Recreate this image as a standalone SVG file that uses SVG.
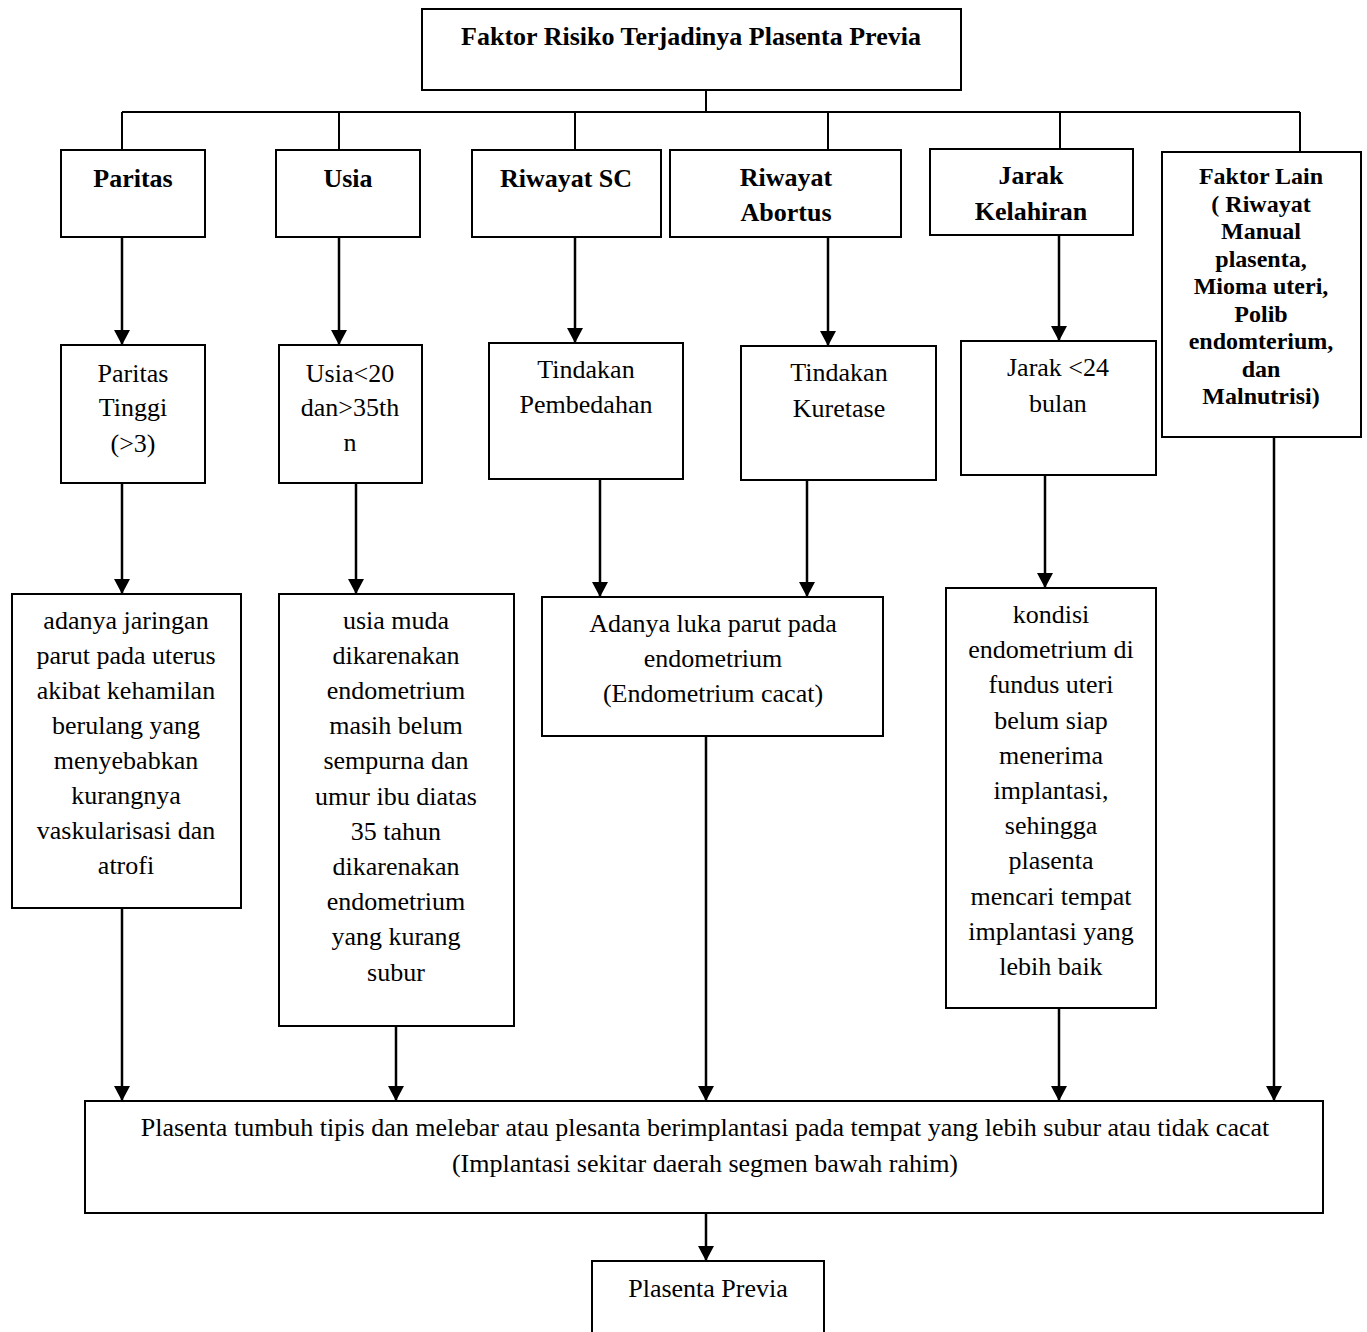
<svg xmlns="http://www.w3.org/2000/svg" width="1367" height="1332" viewBox="0 0 1367 1332">
  <style>
    .box { fill: #fff; stroke: #000; stroke-width: 2; }
    .wire { fill: none; stroke: #000; stroke-width: 2; }
    .arrow { fill: none; stroke: #000; stroke-width: 2.5; marker-end: url(#head); }
    text { font-family: "Liberation Serif", "Times New Roman", serif; fill: #000; text-anchor: middle; }
    .t { font-size: 26px; }
    .b { font-size: 26px; font-weight: bold; }
    .bs { font-size: 24px; font-weight: bold; }
  </style>
  <defs>
    <marker id="head" viewBox="0 0 15 16" refX="15" refY="8" markerWidth="15" markerHeight="16" markerUnits="userSpaceOnUse" orient="auto">
      <path d="M0,0 L15,8 L0,16 z" fill="#000"/>
    </marker>
  </defs>
  <rect width="1367" height="1332" fill="#fff"/>

  <!-- connectors -->
  <g id="connectors">
    <path class="wire" d="M706,90 V112 M122,112 H1300 M122,112 V150 M339,112 V150 M575,112 V150 M828,112 V150 M1060,112 V149 M1300,112 V152"/>
    <line class="arrow" x1="122" y1="237" x2="122" y2="345"/>
    <line class="arrow" x1="339" y1="237" x2="339" y2="345"/>
    <line class="arrow" x1="575" y1="237" x2="575" y2="343"/>
    <line class="arrow" x1="828" y1="237" x2="828" y2="346"/>
    <line class="arrow" x1="1059" y1="235" x2="1059" y2="341"/>
    <line class="arrow" x1="122" y1="483" x2="122" y2="594"/>
    <line class="arrow" x1="356" y1="483" x2="356" y2="594"/>
    <line class="arrow" x1="600" y1="479" x2="600" y2="597"/>
    <line class="arrow" x1="807" y1="480" x2="807" y2="597"/>
    <line class="arrow" x1="1045" y1="475" x2="1045" y2="588"/>
    <line class="arrow" x1="122" y1="908" x2="122" y2="1101"/>
    <line class="arrow" x1="396" y1="1026" x2="396" y2="1101"/>
    <line class="arrow" x1="706" y1="736" x2="706" y2="1101"/>
    <line class="arrow" x1="1059" y1="1008" x2="1059" y2="1101"/>
    <line class="arrow" x1="1274" y1="437" x2="1274" y2="1101"/>
    <line class="arrow" x1="706" y1="1213" x2="706" y2="1261"/>
  </g>

  <!-- root -->
  <g id="root">
    <rect class="box" x="422" y="9" width="539" height="81"/>
    <text class="b" x="691" y="45">Faktor Risiko Terjadinya Plasenta Previa</text>
  </g>

  <!-- risk factors -->
  <g id="paritas">
    <rect class="box" x="61" y="150" width="144" height="87"/>
    <text class="b" x="133" y="187">Paritas</text>
  </g>
  <g id="usia">
    <rect class="box" x="276" y="150" width="144" height="87"/>
    <text class="b" x="348" y="187">Usia</text>
  </g>
  <g id="riwayat-sc">
    <rect class="box" x="472" y="150" width="189" height="87"/>
    <text class="b" x="566" y="187">Riwayat SC</text>
  </g>
  <g id="riwayat-abortus">
    <rect class="box" x="670" y="150" width="231" height="87"/>
    <text class="b" x="786" y="186">Riwayat</text>
    <text class="b" x="786" y="221">Abortus</text>
  </g>
  <g id="jarak-kelahiran">
    <rect class="box" x="930" y="149" width="203" height="86"/>
    <text class="b" x="1031" y="184">Jarak</text>
    <text class="b" x="1031" y="220">Kelahiran</text>
  </g>
  <g id="faktor-lain">
    <rect class="box" x="1162" y="152" width="199" height="285"/>
    <text class="bs" x="1261" y="184">Faktor Lain</text>
    <text class="bs" x="1261" y="211.5">( Riwayat</text>
    <text class="bs" x="1261" y="239">Manual</text>
    <text class="bs" x="1261" y="266.5">plasenta,</text>
    <text class="bs" x="1261" y="294">Mioma uteri,</text>
    <text class="bs" x="1261" y="321.5">Polib</text>
    <text class="bs" x="1261" y="349">endomterium,</text>
    <text class="bs" x="1261" y="376.5">dan</text>
    <text class="bs" x="1261" y="404">Malnutrisi)</text>
  </g>

  <!-- conditions -->
  <g id="paritas-tinggi">
    <rect class="box" x="61" y="345" width="144" height="138"/>
    <text class="t" x="133" y="382">Paritas</text>
    <text class="t" x="133" y="416">Tinggi</text>
    <text class="t" x="133" y="452">(&gt;3)</text>
  </g>
  <g id="usia-batas">
    <rect class="box" x="279" y="345" width="143" height="138"/>
    <text class="t" x="350" y="382">Usia&lt;20</text>
    <text class="t" x="350" y="416">dan&gt;35th</text>
    <text class="t" x="350" y="451">n</text>
  </g>
  <g id="tindakan-pembedahan">
    <rect class="box" x="489" y="343" width="194" height="136"/>
    <text class="t" x="586" y="378">Tindakan</text>
    <text class="t" x="586" y="413">Pembedahan</text>
  </g>
  <g id="tindakan-kuretase">
    <rect class="box" x="741" y="346" width="195" height="134"/>
    <text class="t" x="839" y="381">Tindakan</text>
    <text class="t" x="839" y="417">Kuretase</text>
  </g>
  <g id="jarak-24">
    <rect class="box" x="961" y="341" width="195" height="134"/>
    <text class="t" x="1058" y="376">Jarak &lt;24</text>
    <text class="t" x="1058" y="412">bulan</text>
  </g>

  <!-- mechanisms -->
  <g id="jaringan-parut">
    <rect class="box" x="12" y="594" width="229" height="314"/>
    <text class="t" x="126" y="629">adanya jaringan</text>
    <text class="t" x="126" y="664">parut pada uterus</text>
    <text class="t" x="126" y="699">akibat kehamilan</text>
    <text class="t" x="126" y="734">berulang yang</text>
    <text class="t" x="126" y="769">menyebabkan</text>
    <text class="t" x="126" y="804">kurangnya</text>
    <text class="t" x="126" y="839">vaskularisasi dan</text>
    <text class="t" x="126" y="874">atrofi</text>
  </g>
  <g id="usia-muda">
    <rect class="box" x="279" y="594" width="235" height="432"/>
    <text class="t" x="396" y="629">usia muda</text>
    <text class="t" x="396" y="664">dikarenakan</text>
    <text class="t" x="396" y="699">endometrium</text>
    <text class="t" x="396" y="734">masih belum</text>
    <text class="t" x="396" y="769">sempurna dan</text>
    <text class="t" x="396" y="805">umur ibu diatas</text>
    <text class="t" x="396" y="840">35 tahun</text>
    <text class="t" x="396" y="875">dikarenakan</text>
    <text class="t" x="396" y="910">endometrium</text>
    <text class="t" x="396" y="945">yang kurang</text>
    <text class="t" x="396" y="981">subur</text>
  </g>
  <g id="luka-parut">
    <rect class="box" x="542" y="597" width="341" height="139"/>
    <text class="t" x="713" y="632">Adanya luka parut pada</text>
    <text class="t" x="713" y="667">endometrium</text>
    <text class="t" x="713" y="702">(Endometrium cacat)</text>
  </g>
  <g id="kondisi-endometrium">
    <rect class="box" x="946" y="588" width="210" height="420"/>
    <text class="t" x="1051" y="623">kondisi</text>
    <text class="t" x="1051" y="658">endometrium di</text>
    <text class="t" x="1051" y="693">fundus uteri</text>
    <text class="t" x="1051" y="729">belum siap</text>
    <text class="t" x="1051" y="764">menerima</text>
    <text class="t" x="1051" y="799">implantasi,</text>
    <text class="t" x="1051" y="834">sehingga</text>
    <text class="t" x="1051" y="869">plasenta</text>
    <text class="t" x="1051" y="905">mencari tempat</text>
    <text class="t" x="1051" y="940">implantasi yang</text>
    <text class="t" x="1051" y="975">lebih baik</text>
  </g>

  <!-- outcome -->
  <g id="implantasi">
    <rect class="box" x="85" y="1101" width="1238" height="112"/>
    <text class="t" x="705" y="1136">Plasenta tumbuh tipis dan melebar atau plesanta berimplantasi pada tempat yang lebih subur atau tidak cacat</text>
    <text class="t" x="705" y="1172">(Implantasi sekitar daerah segmen bawah rahim)</text>
  </g>
  <g id="plasenta-previa">
    <rect class="box" x="592" y="1261" width="232" height="90"/>
    <text class="t" x="708" y="1297">Plasenta Previa</text>
  </g>
</svg>
